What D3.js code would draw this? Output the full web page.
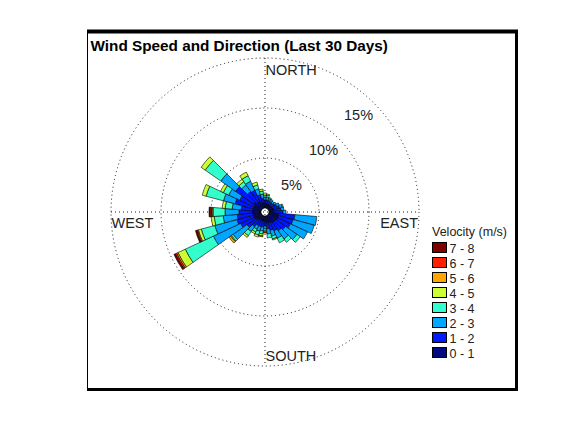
<!DOCTYPE html>
<html><head><meta charset="utf-8">
<script src="https://cdn.jsdelivr.net/npm/d3@7"></script>
<style>
body{margin:0;background:#fff;}
svg{display:block;font-family:"Liberation Sans",Arial,Helvetica,sans-serif;}
</style></head>
<body>
<svg id="chart" width="583" height="438"></svg>
<script>
// Direction bins (compass degrees, bin centres)
const directions = [0,10,20,30,40,50,60,70,80,90,100,110,120,130,140,150,160,170,180,190,200,210,220,230,240,250,260,270,280,290,300,310,320,330,340,350];
// Frequency (%) of each speed class per direction
const v0_1 = [0.4,0.4,0.4,0.4,0.4,0.4,0.4,0.5,0.5,0.5,1.0,1.0,1.0,0.9,0.9,0.8,0.7,0.6,0.5,0.5,0.5,0.5,0.6,0.7,0.8,0.8,0.8,0.8,0.8,0.8,0.8,1.0,0.8,0.8,0.6,0.5];
const v1_2 = [0.4,0.4,0.4,0.3,0.3,0.4,0.5,0.6,0.7,0.9,1.6,1.5,1.4,1.2,1.0,0.9,0.8,0.7,0.5,0.6,0.6,0.6,0.8,1.1,1.5,1.7,1.6,1.4,1.2,1.9,1.6,2.2,1.3,1.2,0.8,0.5];
const v2_3 = [0.3,0.3,0.2,0.2,0.2,0.2,0.3,0.3,0.3,0.3,2.2,2.2,1.9,1.4,1.0,0.8,0.6,0.5,0.3,0.4,0.5,0.4,0.6,1.7,3.0,2.3,1.4,1.4,0.9,1.2,1.2,1.8,0.8,1.0,0.6,0.4];
const v3_4 = [0.2,0.2,0.1,0.1,0.0,0.0,0.0,0.1,0.0,0.0,0.0,0.0,0.0,0.4,0.4,0.5,0.3,0.4,0.2,0.3,0.4,0.3,0.5,0.2,3.1,1.4,0.9,1.2,0.7,1.8,0.6,1.9,0.4,0.6,0.4,0.3];
const v4_5 = [0.2,0.1,0.0,0.0,0.0,0.0,0.0,0.0,0.0,0.0,0.0,0.0,0.0,0.0,0.0,0.0,0.1,0.0,0.1,0.2,0.2,0.2,0.2,0.1,0.8,0.3,0.3,0.1,0.3,0.4,0.3,0.5,0.3,0.4,0.3,0.2];
const v5_6 = [0,0,0,0,0,0,0,0,0,0,0,0,0,0,0,0,0,0,0,0.1,0,0,0,0.2,0.15,0.1,0,0.05,0,0,0,0,0,0,0,0];
const v6_7 = [0,0,0,0,0,0,0,0,0,0,0,0,0,0,0,0,0,0,0.1,0,0,0,0,0,0.15,0.1,0,0.15,0,0,0,0,0,0,0,0];
const v7_8 = [0,0,0,0,0,0,0,0,0,0,0,0,0,0,0,0,0,0,0,0,0,0,0,0,0.15,0.1,0,0.1,0,0,0,0,0,0,0,0];
const speedLabels = ["0 - 1","1 - 2","2 - 3","3 - 4","4 - 5","5 - 6","6 - 7","7 - 8"];
const speedColors = ["#000a80","#0018ff","#00a6ff","#33ffcc","#ccff33","#ffa500","#ff1e00","#800000"];
const ringValues = [5,10,15];
const ringLabels = ["5%","10%","15%"];
const compassLabels = ["NORTH","EAST","SOUTH","WEST"];
const title = "Wind Speed and Direction (Last 30 Days)";
const legendTitle = "Velocity (m/s)";

const series = [v0_1,v1_2,v2_3,v3_4,v4_5,v5_6,v6_7,v7_8];
const svg = d3.select("#chart");
const cx = 265, cy = 212;
const r = d3.scaleLinear().domain([0,15]).range([4,154]);
const rmax = r(15);
const binWidth = 10;

// frame
const fr = svg.append("g");
fr.append("rect").attr("x",87.5).attr("y",31.5).attr("width",429).attr("height",358)
  .attr("fill","#fff").attr("stroke","#000").attr("stroke-width",1);
fr.append("line").attr("x1",87).attr("x2",518).attr("y1",31.5).attr("y2",31.5).attr("stroke","#000").attr("stroke-width",4);
fr.append("line").attr("x1",516.5).attr("x2",516.5).attr("y1",30).attr("y2",391).attr("stroke","#000").attr("stroke-width",3);
fr.append("line").attr("x1",87).attr("x2",518).attr("y1",389.5).attr("y2",389.5).attr("stroke","#000").attr("stroke-width",3);

// title
svg.append("text").attr("x",90.5).attr("y",51).attr("font-size",15.3).attr("font-weight","bold")
  .attr("fill","#000").text(title);

const g = svg.append("g").attr("transform",`translate(${cx},${cy})`);

// grid
const grid = g.append("g").attr("fill","none").attr("stroke","#000").attr("stroke-width",0.9).attr("stroke-dasharray","1,3");
ringValues.forEach(v => grid.append("circle").attr("r", r(v)));
grid.append("line").attr("x1",-rmax).attr("x2",rmax).attr("y1",0).attr("y2",0);
grid.append("line").attr("x1",0).attr("x2",0).attr("y1",-rmax).attr("y2",rmax);

// stacked petals
const table = directions.map((d,i) => {
  const o = {dir:d};
  series.forEach((s,k) => o["c"+k] = s[i]);
  return o;
});
const stack = d3.stack().keys(series.map((s,k)=>"c"+k))(table);
const arc = d3.arc();
const toRad = a => a*Math.PI/180;
stack.forEach((layer,k) => {
  g.append("g").selectAll("path").data(layer.filter(d => d[1]-d[0] > 0)).join("path")
    .attr("d", d => arc({innerRadius:r(d[0]), outerRadius:r(d[1]),
        startAngle:toRad(d.data.dir - binWidth/2), endAngle:toRad(d.data.dir + binWidth/2)}))
    .attr("fill", speedColors[k]).attr("stroke","#000").attr("stroke-width",0.6);
});

// ring labels at 45deg
const lab = g.append("g").attr("font-size",14.5).attr("fill","#222");
const ringLabelPos = [[16,-22],[44,-57],[79,-92]];
ringValues.forEach((v,i) => lab.append("text").attr("x",ringLabelPos[i][0]).attr("y",ringLabelPos[i][1]).text(ringLabels[i]));
lab.append("text").attr("x",0.5).attr("y",-137).text(compassLabels[0]);
lab.append("text").attr("x",rmax-1).attr("y",16).attr("text-anchor","end").text(compassLabels[1]);
lab.append("text").attr("x",0.5).attr("y",149).text(compassLabels[2]);
lab.append("text").attr("x",-rmax+0.5).attr("y",16).text(compassLabels[3]);

// legend
const lg = svg.append("g").attr("font-size",12.5).attr("fill","#222");
lg.append("text").attr("x",432).attr("y",236).text(legendTitle);
const order = d3.range(speedLabels.length).reverse();
order.forEach((k,j) => {
  const y = 242.5 + j*15;
  lg.append("rect").attr("x",432.5).attr("y",y).attr("width",14).attr("height",10)
    .attr("fill",speedColors[k]).attr("stroke","#000").attr("stroke-width",1);
  lg.append("text").attr("x",449.5).attr("y",y+10).text(speedLabels[k]);
});
</script>
</body></html>
